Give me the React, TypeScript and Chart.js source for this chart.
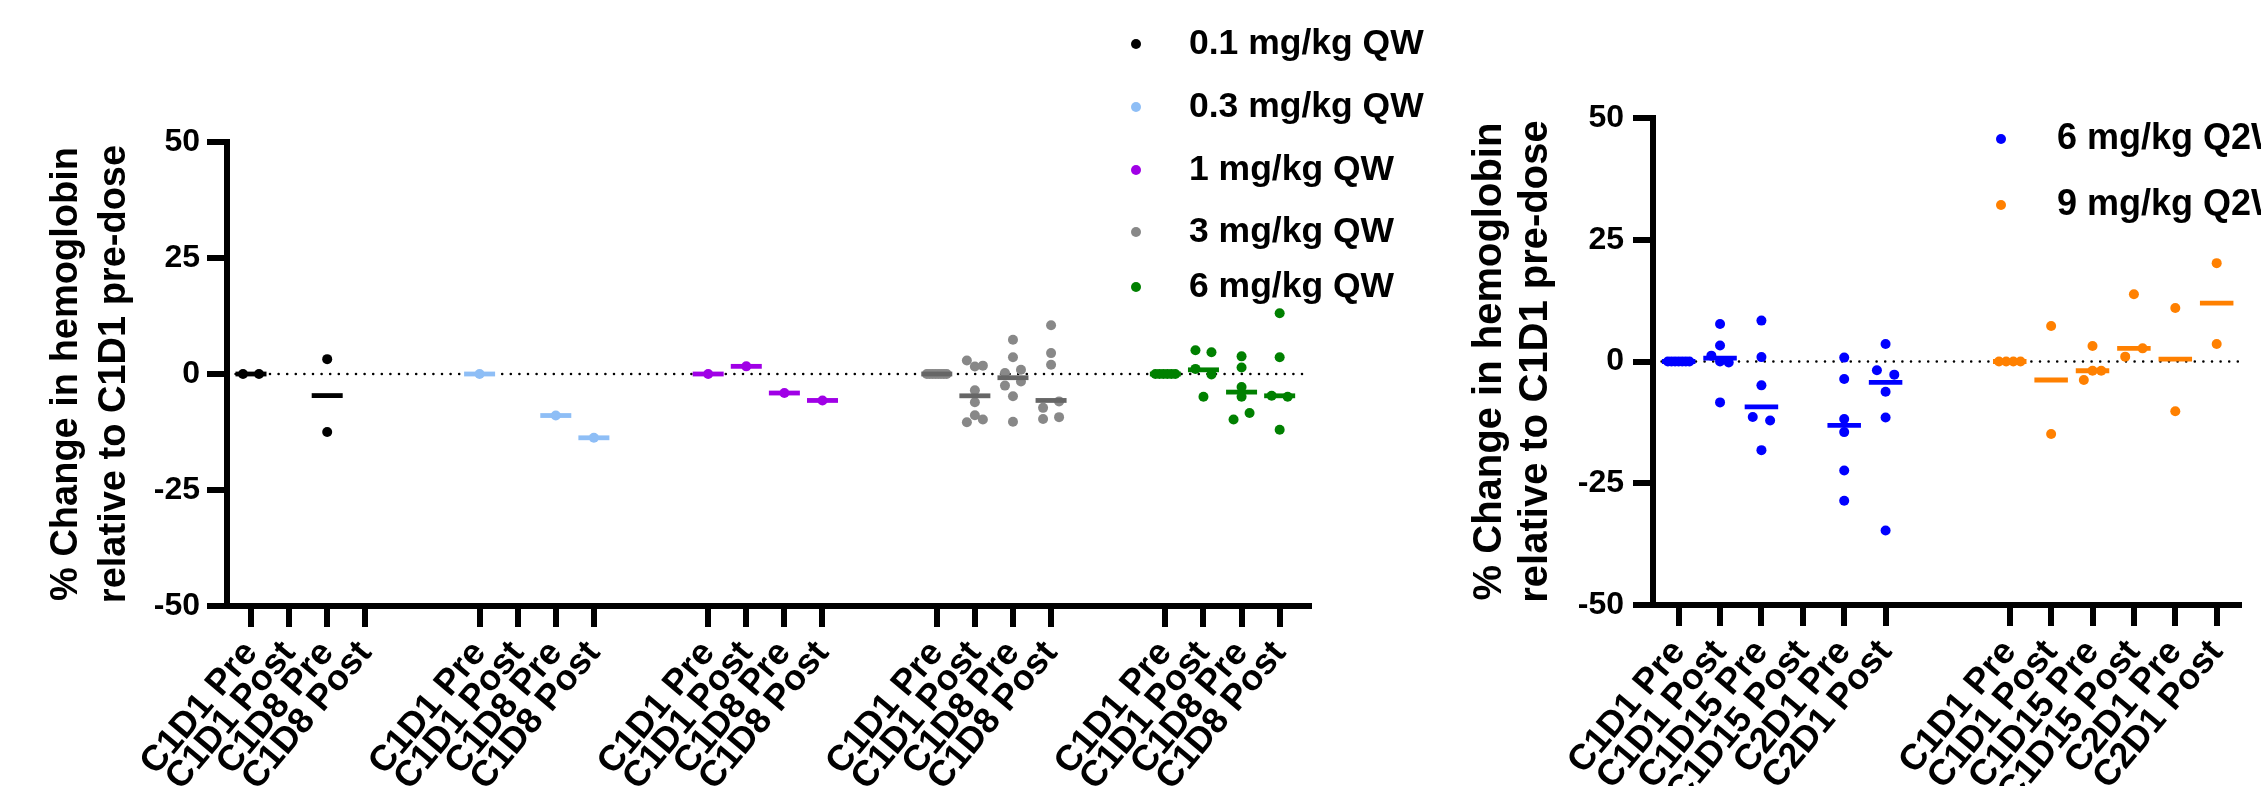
import React, { useEffect, useRef } from "react";
import { Chart, registerables } from "chart.js";

Chart.register(...registerables);

const FONT = '"Liberation Sans", Arial, Helvetica, sans-serif';

// ---------- QW panel (left) ----------
const qwDoses = ["0.1 mg/kg QW", "0.3 mg/kg QW", "1 mg/kg QW", "3 mg/kg QW", "6 mg/kg QW"];
const qwTimepoints = ["C1D1 Pre", "C1D1 Post", "C1D8 Pre", "C1D8 Post"];
const qwColors = ["#000000", "#8EBEF6", "#A000E6", "#888888", "#008000"];
const qwMedianColors = ["#000000", "#8EBEF6", "#A000E6", "#666666", "#008000"];

const qw01Values = [[0, 0], [], [3.2, -12.5], []];
const qw03Values = [[0], [], [-8.95], [-13.75]];
const qw1Values = [[0], [1.65], [-4.1], [-5.7]];
const qw3Values = [
  [0, 0, 0, 0, 0, 0, 0, 0],
  [2.9, 1.6, 1.8, -3.5, -6.1, -10.4, -8.9, -9.8],
  [7.4, 3.6, 0.2, 0.9, -2.5, -1.6, -4.8, -10.3],
  [10.5, 4.5, 2.0, -7.3, -5.9, -9.7, -9.3],
];
const qw6Values = [
  [0, 0, 0, 0, 0, 0],
  [5.1, 4.7, 1.1, -0.1, -4.9],
  [3.8, 1.4, -2.8, -4.9, -9.8, -8.4],
  [13.1, 3.6, -4.7, -4.9, -12.0],
];
const qw01Median = [0, null, -4.65, null];
const qw03Median = [0, null, -8.95, -13.75];
const qw1Median = [0, 1.65, -4.1, -5.7];
const qw3Median = [0, -4.7, -0.8, -5.7];
const qw6Median = [0, 0.9, -3.9, -4.7];

// ---------- Q2W panel (right) ----------
const q2wDoses = ["6 mg/kg Q2W", "9 mg/kg Q2W"];
const q2wTimepoints = ["C1D1 Pre", "C1D1 Post", "C1D15 Pre", "C1D15 Post", "C2D1 Pre", "C2D1 Post"];
const q2wColors = ["#0000FF", "#FF8000"];
const q2wMedianColors = ["#0000FF", "#FF8000"];

const q2w6Values = [
  [0, 0, 0, 0, 0, 0, 0],
  [7.7, 3.3, 1.2, 0, -0.2, -8.4],
  [8.4, 0.9, -4.9, -11.4, -12.1, -18.2],
  [],
  [0.8, -3.6, -11.8, -14.5, -22.4, -28.6],
  [3.6, -1.8, -2.7, -6.2, -11.5, -34.7],
];
const q2w9Values = [
  [0, 0, 0, 0],
  [7.3, -14.9],
  [3.2, -3.8, -1.9, -1.9],
  [13.8, 1.0, 2.7],
  [11.0, -10.2],
  [20.2, 3.6],
];
const q2w6Median = [0, 0.7, -9.3, null, -13.1, -4.3];
const q2w9Median = [0, -3.8, -1.9, 2.7, 0.5, 12.0];

const yTickValues = [-50, -25, 0, 25, 50];
const yTitle = ["% Change in hemoglobin", "relative to C1D1 pre-dose"];

// column scatter layout (GraphPad-like): nearby values are spread side by side
function swarm(values: number[], center: number) {
  const thr = 2.0;
  const d = 0.21;
  const maxHalf = 0.26;
  const idx = values.map((_, i) => i).sort((a, b) => values[b] - values[a]);
  const rows: number[][] = [];
  let anchor = Infinity;
  for (const i of idx) {
    if (rows.length && anchor - values[i] < thr) rows[rows.length - 1].push(i);
    else {
      rows.push([i]);
      anchor = values[i];
    }
  }
  const pts: { x: number; y: number }[] = [];
  for (const row of rows) {
    row.sort((a, b) => a - b);
    const n = row.length;
    const step = n <= 3 ? d : (2 * maxHalf) / (n - 1);
    row.forEach((i, k) => {
      const off = n === 2 ? (k === 0 ? -d : d) : (k - (n - 1) / 2) * step;
      pts.push({ x: center + off, y: values[i] });
    });
  }
  return pts;
}

const legendPlugin = {
  id: "doseLegend",
  afterDraw(chart: any, _args: any, opts: any) {
    const ctx = chart.ctx;
    ctx.save();
    ctx.font = `bold ${opts.fontSize}px ${FONT}`;
    ctx.textBaseline = "middle";
    ctx.textAlign = "left";
    opts.items.forEach((item: any, i: number) => {
      const y = opts.ys[i];
      ctx.fillStyle = item.color;
      ctx.beginPath();
      ctx.arc(opts.dotX, y, opts.dotR, 0, Math.PI * 2);
      ctx.fill();
      ctx.fillStyle = "#000";
      ctx.fillText(item.label, opts.textX, y);
    });
    ctx.restore();
  },
};

type Spec = {
  doses: string[];
  timepoints: string[];
  colors: string[];
  medianColors: string[];
  values: number[][][];
  medians: (number | null)[][];
  padding: { left: number; top: number; right: number; bottom: number };
  yWidth: number;
  xHeight: number;
  xMin: number;
  xMax: number;
  titleSize: number;
  titleLH: number;
  titlePad: number;
  medianHalf: number;
  yTickPad: number;
  legend: { dotX: number; textX: number; ys: number[]; fontSize: number };
};

function buildConfig(spec: Spec): any {
  const stride = spec.timepoints.length + 2;
  const labelMap = new Map<number, string>();
  const tickPositions: number[] = [];
  spec.doses.forEach((_, g) => {
    spec.timepoints.forEach((tp, k) => {
      const p = g * stride + k;
      labelMap.set(p, tp);
      tickPositions.push(p);
    });
  });

  const datasets: any[] = [];
  spec.doses.forEach((dose, g) => {
    const base = g * stride;
    const pts = spec.values[g].flatMap((vals, k) => swarm(vals, base + k));
    datasets.push({
      type: "scatter",
      label: dose,
      data: pts,
      backgroundColor: spec.colors[g],
      borderWidth: 0,
      pointRadius: 5,
      pointHoverRadius: 5,
      order: 1,
    });
    const meds = spec.medians[g]
      .map((m, k) => (m === null ? null : { x: base + k, y: m }))
      .filter((v) => v !== null);
    datasets.push({
      type: "scatter",
      label: dose + " median",
      data: meds,
      pointStyle: "line",
      pointRadius: spec.medianHalf,
      pointHoverRadius: spec.medianHalf,
      borderColor: spec.medianColors[g],
      backgroundColor: spec.medianColors[g],
      borderWidth: 4.8,
      pointBorderWidth: 4.8,
      order: 0,
    });
  });
  datasets.push({
    type: "line",
    label: "zero",
    data: [
      { x: spec.xMin, y: 0 },
      { x: spec.xMax, y: 0 },
    ],
    borderColor: "#000",
    borderWidth: 2.6,
    borderDash: [0, 8.6],
    borderCapStyle: "round",
    pointRadius: 0,
    order: 2,
  });

  const axisGrid = (tl: number) => ({
    display: true,
    drawOnChartArea: false,
    drawTicks: true,
    tickLength: tl,
    tickWidth: 6,
    tickColor: "#000",
    lineWidth: 6,
    color: "#000",
  });
  const border = { display: true, width: 6, color: "#000" };

  return {
    type: "scatter",
    data: { datasets },
    options: {
      responsive: false,
      animation: false,
      events: [],
      layout: { padding: spec.padding },
      plugins: {
        legend: { display: false },
        tooltip: { enabled: false },
        doseLegend: {
          items: spec.doses.map((d, i) => ({ label: d, color: spec.colors[i] })),
          dotX: spec.legend.dotX,
          textX: spec.legend.textX,
          ys: spec.legend.ys,
          fontSize: spec.legend.fontSize,
          dotR: 5,
        },
      },
      scales: {
        x: {
          type: "linear",
          min: spec.xMin,
          max: spec.xMax,
          afterBuildTicks: (s: any) => {
            s.ticks = tickPositions.map((v) => ({ value: v }));
          },
          afterFit: (s: any) => {
            s.height = spec.xHeight;
          },
          ticks: {
            autoSkip: false,
            minRotation: 50,
            maxRotation: 50,
            padding: 6,
            color: "#000",
            font: { family: FONT, size: 36, weight: "bold" },
            callback: (v: any) => labelMap.get(Math.round(Number(v))) ?? "",
          },
          grid: axisGrid(21),
          border,
        },
        y: {
          type: "linear",
          min: -50,
          max: 50,
          afterBuildTicks: (s: any) => {
            s.ticks = yTickValues.map((v) => ({ value: v }));
          },
          afterFit: (s: any) => {
            s.width = spec.yWidth;
          },
          ticks: {
            padding: spec.yTickPad,
            color: "#000",
            font: { family: FONT, size: 32, weight: "bold" },
          },
          grid: axisGrid(20),
          border,
          title: {
            display: true,
            text: yTitle,
            color: "#000",
            font: { family: FONT, size: spec.titleSize, weight: "bold", lineHeight: spec.titleLH },
            padding: { top: spec.titlePad, bottom: 0 },
          },
        },
      },
    },
    plugins: [legendPlugin],
  };
}

const leftSpec: Spec = {
  doses: qwDoses,
  timepoints: qwTimepoints,
  colors: qwColors,
  medianColors: qwMedianColors,
  values: [qw01Values, qw03Values, qw1Values, qw3Values, qw6Values],
  medians: [qw01Median, qw03Median, qw1Median, qw3Median, qw6Median],
  padding: { left: 0, top: 142, right: 131, bottom: 0 },
  yWidth: 227,
  xHeight: 180,
  xMin: -0.63,
  xMax: 27.77,
  titleSize: 38,
  titleLH: 48 / 38,
  titlePad: 43,
  medianHalf: 15.5,
  yTickPad: 7,
  legend: { dotX: 1136, textX: 1189, ys: [44, 107, 170, 232, 287], fontSize: 35.5 },
};

const RIGHT_LEFT = 1440;
const rightSpec: Spec = {
  doses: q2wDoses,
  timepoints: q2wTimepoints,
  colors: q2wColors,
  medianColors: q2wMedianColors,
  values: [q2w6Values, q2w9Values],
  medians: [q2w6Median, q2w9Median],
  padding: { left: 0, top: 118, right: 16, bottom: 0 },
  yWidth: 213,
  xHeight: 181,
  xMin: -0.62,
  xMax: 13.55,
  titleSize: 40,
  titleLH: 46 / 40,
  titlePad: 27,
  medianHalf: 16.75,
  yTickPad: 9,
  legend: { dotX: 2001 - RIGHT_LEFT, textX: 2057 - RIGHT_LEFT, ys: [139, 205], fontSize: 36 },
};

function Panel({ spec, left, width }: { spec: Spec; left: number; width: number }) {
  const ref = useRef<HTMLCanvasElement | null>(null);
  useEffect(() => {
    if (!ref.current) return;
    const chart = new Chart(ref.current, buildConfig(spec));
    return () => chart.destroy();
  }, [spec]);
  return (
    <canvas
      ref={ref}
      width={width}
      height={786}
      style={{ position: "absolute", left, top: 0, width, height: 786 }}
    />
  );
}

export default function App() {
  return (
    <div
      style={{
        position: "absolute",
        left: 0,
        top: 0,
        width: 2261,
        height: 786,
        overflow: "hidden",
        background: "#fff",
      }}
    >
      <Panel spec={leftSpec} left={0} width={1440} />
      <Panel spec={rightSpec} left={RIGHT_LEFT} width={2261 - RIGHT_LEFT} />
    </div>
  );
}
